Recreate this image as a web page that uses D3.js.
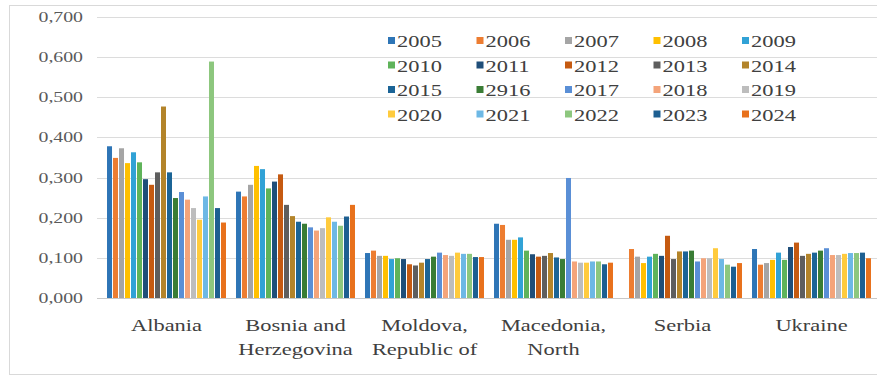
<!DOCTYPE html>
<html>
<head>
<meta charset="utf-8">
<script src="https://cdn.jsdelivr.net/npm/d3@7"></script>
<style>
  html, body { margin: 0; padding: 0; background: #ffffff; }
  svg { display: block; }
  text { font-family: "Liberation Serif", "Times New Roman", serif; }
</style>
</head>
<body>
<div id="chart"></div>
<script>
// Countries on the category axis (two-line labels split with "\n")
const categories = [
  "Albania",
  "Bosnia and\nHerzegovina",
  "Moldova,\nRepublic of",
  "Macedonia,\nNorth",
  "Serbia",
  "Ukraine"
];

// Series names as printed in the legend
const years = ["2005","2006","2007","2008","2009","2010","2011","2012","2013","2014",
               "2015","2916","2017","2018","2019","2020","2021","2022","2023","2024"];

// Values per country, one entry per year (in the order of `years`)
const albania   = [0.378,0.349,0.373,0.336,0.363,0.338,0.296,0.282,0.313,0.477,
                   0.313,0.249,0.264,0.245,0.224,0.195,0.253,0.589,0.224,0.188];
const bosnia    = [0.265,0.253,0.282,0.329,0.321,0.273,0.290,0.308,0.232,0.204,
                   0.190,0.185,0.176,0.168,0.174,0.201,0.190,0.180,0.203,0.232];
const moldova   = [0.112,0.118,0.105,0.105,0.097,0.099,0.097,0.084,0.081,0.088,
                   0.097,0.103,0.113,0.107,0.105,0.113,0.110,0.110,0.102,0.102];
const macedonia = [0.185,0.182,0.145,0.145,0.151,0.118,0.109,0.103,0.105,0.112,
                   0.101,0.097,0.299,0.091,0.088,0.088,0.091,0.091,0.084,0.088];
const serbia    = [0.000,0.122,0.103,0.087,0.103,0.110,0.105,0.155,0.097,0.116,
                   0.116,0.118,0.091,0.099,0.099,0.124,0.097,0.083,0.078,0.087];
const ukraine   = [0.122,0.083,0.087,0.095,0.113,0.095,0.127,0.138,0.105,0.110,
                   0.113,0.118,0.124,0.107,0.107,0.110,0.112,0.112,0.113,0.099];

const seriesByCountry = [albania, bosnia, moldova, macedonia, serbia, ukraine];

// Y axis ticks
const yTicks = [0, 0.1, 0.2, 0.3, 0.4, 0.5, 0.6, 0.7];

// One colour per year
const colors = ["#2E75B6","#ED7D31","#A5A5A5","#FFC000","#31A2D6",
                "#5FB35A","#1F4E79","#C55A11","#5E5E5E","#B3842A",
                "#1B6496","#3A7D35","#5A8FD6","#F4A47A","#BDBDBD",
                "#FFCB3D","#6DB8E5","#8DC77E","#1D5F91","#E8711C"];

const W = 877, H = 378;
const textStretch = 1.32;   // wide lettering

const svg = d3.select("#chart").append("svg")
  .attr("width", W).attr("height", H);

svg.append("rect").attr("width", W).attr("height", H).attr("fill", "#ffffff");

// outer frame
svg.append("rect")
  .attr("x", 9.5).attr("y", 5.5).attr("width", W + 20).attr("height", 369)
  .attr("fill", "none").attr("stroke", "#d9d9d9").attr("stroke-width", 1);

const y = d3.scaleLinear().domain([0, 0.7]).range([298, 17]);

const x0 = d3.scaleBand()
  .domain(categories)
  .range([102, 876])
  .paddingInner(0.07)
  .paddingOuter(0.035);

const x1 = d3.scaleBand()
  .domain(years)
  .range([0, x0.bandwidth()]);

const color = d3.scaleOrdinal().domain(years).range(colors);

// gridlines
svg.append("g").selectAll("line")
  .data(yTicks)
  .join("line")
  .attr("x1", 97).attr("x2", W)
  .attr("y1", d => Math.round(y(d)) + 0.5)
  .attr("y2", d => Math.round(y(d)) + 0.5)
  .attr("stroke", d => d === 0 ? "#c8c8c8" : "#dcdcdc")
  .attr("stroke-width", 1);

// y tick labels
const fmt = d3.format(".3f");
svg.append("g").selectAll("text")
  .data(yTicks)
  .join("text")
  .attr("transform", d => `translate(83,${y(d) + 5}) scale(${textStretch},1)`)
  .attr("text-anchor", "end")
  .attr("font-size", 15)
  .attr("fill", "#595959")
  .text(d => fmt(d).replace(".", ","));

// bars
const groups = svg.append("g").selectAll("g")
  .data(categories.map((c, i) => ({ cat: c, values: seriesByCountry[i] })))
  .join("g")
  .attr("transform", d => `translate(${x0(d.cat)},0)`);

groups.selectAll("rect")
  .data(d => d.values.map((v, j) => ({ year: years[j], value: v })))
  .join("rect")
  .attr("x", d => x1(d.year) + 0.5)
  .attr("width", x1.bandwidth() - 1)
  .attr("y", d => y(d.value))
  .attr("height", d => y(0) - y(d.value))
  .attr("fill", d => color(d.year));

// category labels
const catLabels = svg.append("g").selectAll("text")
  .data(categories)
  .join("text")
  .attr("transform", d => `translate(${x0(d) + x0.bandwidth() / 2},331) scale(${textStretch},1)`)
  .attr("text-anchor", "middle")
  .attr("font-size", 17)
  .attr("fill", "#404040");

catLabels.selectAll("tspan")
  .data(d => d.split("\n"))
  .join("tspan")
  .attr("x", 0)
  .attr("dy", (d, i) => i === 0 ? 0 : 24)
  .text(d => d);

// legend: 4 rows x 5 columns
const legend = svg.append("g");
const legendItems = legend.selectAll("g")
  .data(years)
  .join("g")
  .attr("transform", (d, i) => `translate(${388 + (i % 5) * 88.5},${41 + Math.floor(i / 5) * 24.5})`);

legendItems.append("rect")
  .attr("x", 0).attr("y", -4)
  .attr("width", 7).attr("height", 7)
  .attr("fill", d => color(d));

legendItems.append("text")
  .attr("transform", `translate(9,6) scale(${textStretch},1)`)
  .attr("font-size", 17)
  .attr("fill", "#404040")
  .text(d => d);
</script>
</body>
</html>
